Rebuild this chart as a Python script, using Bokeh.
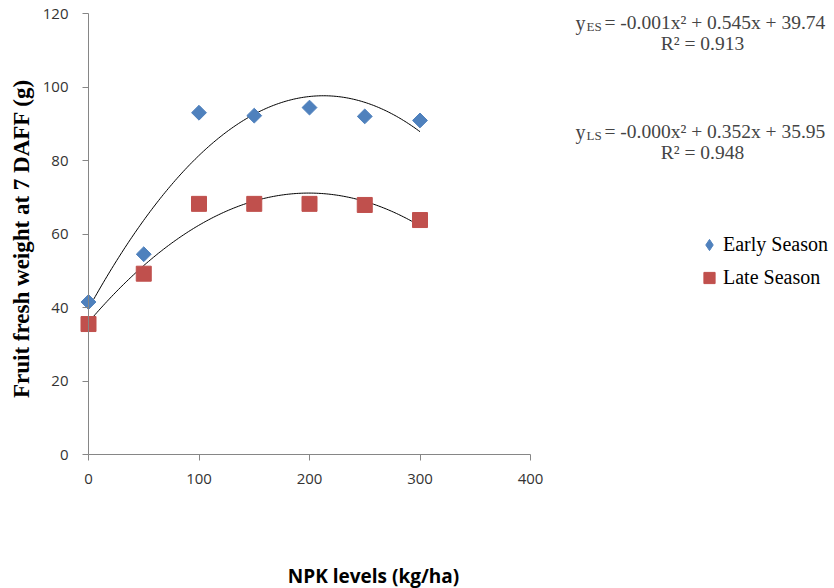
import numpy as np
from bokeh.plotting import figure
from bokeh.models import Range1d, Label, Legend, LegendItem, FixedTicker
from bokeh.embed import file_html
from bokeh.resources import INLINE

# ---- data ----
npk_levels = [0, 50, 100, 150, 200, 250, 300]
early_season = [41.5, 54.5, 93.0, 92.2, 94.4, 92.0, 90.9]
late_season = [35.5, 49.2, 68.2, 68.2, 68.2, 67.9, 63.8]
y_ticks = [0, 20, 40, 60, 80, 100, 120]
x_ticks = [0, 100, 200, 300, 400]
eq_es = ["y", "ES", "= -0.001x² + 0.545x + 39.74", "R² = 0.913"]
eq_ls = ["y", "LS", "= -0.000x² + 0.352x + 35.95", "R² = 0.948"]
series_names = ["Early Season", "Late Season"]
x_title = "NPK levels (kg/ha)"
y_title = "Fruit fresh weight at 7 DAFF (g)"

BLUE = "#4F81BD"
RED = "#C0504D"
SERIF = "Liberation Serif"
SANS = "Open Sans"
W, H = 834, 588

# frame covers the whole canvas; axes drawn at x=0 / y=0
# x=0 at px 88, x=400 at px 530; y=0 at px 454, y=120 at px 13
PX = 442 / 400
PY = 441 / 120
x_rng = Range1d(-88 / PX, (W - 88) / PX)
y_rng = Range1d(-(H - 454) / PY, 120 + 13 / PY)

p = figure(width=W, height=H, output_backend="svg", toolbar_location=None,
           x_range=x_rng, y_range=y_rng, min_border=0,
           min_border_left=0, min_border_right=0, min_border_top=0, min_border_bottom=0)
p.outline_line_color = None
p.grid.grid_line_color = None
p.background_fill_color = "white"

for ax in (p.xaxis[0], p.yaxis[0]):
    ax.axis_line_color = "#868686"
    ax.major_tick_line_color = "#868686"
    ax.major_tick_out = 6
    ax.major_tick_in = 0
    ax.minor_tick_line_color = None
    ax.major_label_text_font = SANS
    ax.major_label_text_font_size = "15px"
    ax.major_label_text_color = "#333333"
    ax.fixed_location = 0

p.xaxis[0].ticker = FixedTicker(ticks=x_ticks)
p.xaxis[0].bounds = (0, 400)
p.yaxis[0].ticker = FixedTicker(ticks=y_ticks)
p.yaxis[0].bounds = (0, 120)
p.xaxis[0].major_label_standoff = 13
p.yaxis[0].major_label_standoff = 14

# axis titles
p.add_layout(Label(x=373, y=H - 575, x_units="screen", y_units="screen", text=x_title,
                   text_font=SANS, text_font_style="bold", text_font_size="19px",
                   text_align="center", text_baseline="middle", text_color="black"))
p.add_layout(Label(x=21, y=H - 238, x_units="screen", y_units="screen", text=y_title,
                   text_font=SERIF, text_font_style="bold", text_font_size="23px",
                   text_align="center", text_baseline="middle", angle=np.pi / 2,
                   text_color="black"))

# polynomial trendlines fitted to the series
xs = np.linspace(0, 300, 200)
for ys in (early_season, late_season):
    c = np.polyfit(npk_levels, ys, 2)
    p.line(xs, np.polyval(c, xs), line_color="black", line_width=1)

# legend key for the diamond series (legend glyphs ignore rotation); hidden under the markers
r_es_key = p.scatter(npk_levels, early_season, marker="diamond", size=7,
                     fill_color=BLUE, line_color=BLUE)
r_es = p.scatter(npk_levels, early_season, marker="square", size=10.5, angle=np.pi / 4,
                 fill_color=BLUE, line_color=BLUE)
r_ls = p.scatter(npk_levels, late_season, marker="square", size=15,
                 fill_color=RED, line_color=RED)

legend = Legend(items=[LegendItem(label=series_names[0], renderers=[r_es_key]),
                       LegendItem(label=series_names[1], renderers=[r_ls])],
                location=(695, H - 294), label_text_font=SERIF, label_text_font_size="20px",
                label_text_color="black",
                border_line_color=None, background_fill_alpha=0, glyph_width=28,
                glyph_height=33, spacing=0, label_standoff=0, padding=0, margin=0)
p.add_layout(legend, "center")


def equation(parts, cy_eq, cy_r2):
    p.add_layout(Label(x=575, y=H - cy_eq, x_units="screen", y_units="screen", text=parts[0],
                       text_font=SERIF, text_font_size="20px", text_baseline="middle",
                       text_align="left"))
    p.add_layout(Label(x=586, y=H - cy_eq - 4, x_units="screen", y_units="screen", text=parts[1],
                       text_font=SERIF, text_font_size="13px", text_baseline="middle",
                       text_align="left"))
    p.add_layout(Label(x=604, y=H - cy_eq, x_units="screen", y_units="screen", text=parts[2],
                       text_font=SERIF, text_font_size="19.5px", text_baseline="middle",
                       text_align="left"))
    p.add_layout(Label(x=702, y=H - cy_r2, x_units="screen", y_units="screen", text=parts[3],
                       text_font=SERIF, text_font_size="19.5px", text_baseline="middle",
                       text_align="center"))


equation(eq_es, 22, 43)
equation(eq_ls, 131, 152)

open("out.html", "w").write(file_html(p, INLINE))
